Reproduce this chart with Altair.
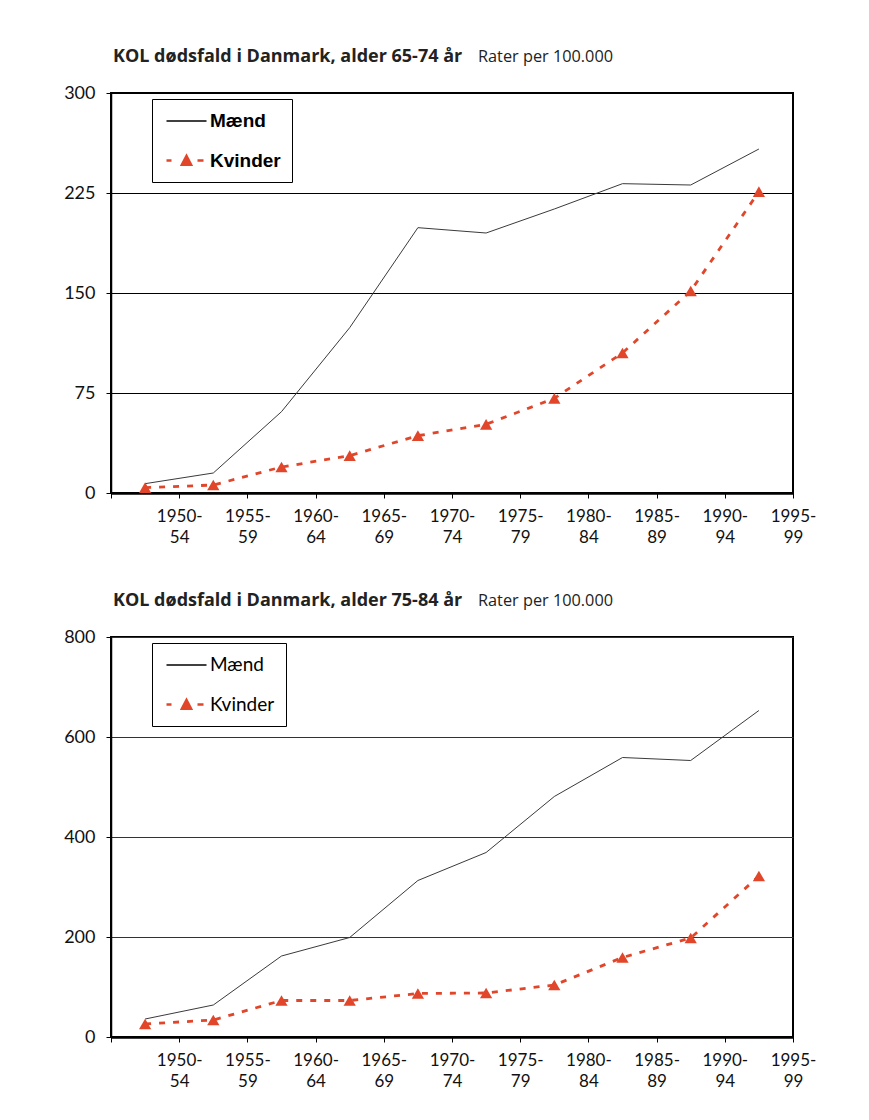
import json
import altair as alt
import pandas as pd

periods = ["1950-54", "1955-59", "1960-64", "1965-69", "1970-74",
           "1975-79", "1980-84", "1985-89", "1990-94", "1995-99"]
series = ["Mænd", "Kvinder"]

men_65 = [7, 15, 61, 124, 199, 195, 213, 232, 231, 258]
women_65 = [4, 6, 19.5, 28, 43, 51.5, 71, 105, 151.5, 226]
men_75 = [36, 64, 162, 199, 313, 369, 481, 559, 553, 653]
women_75 = [26, 34, 73, 73, 87, 88, 104, 159, 198, 322]

ticks_65 = [0, 75, 150, 225, 300]
ticks_75 = [0, 200, 400, 600, 800]

titles = ["KOL dødsfald i Danmark, alder 65-74 år", "KOL dødsfald i Danmark, alder 75-84 år"]
unit_text = "Rater per 100.000"

RED = "#e1462a"
MEN = "#3a3a3a"
W, H = 682, 400

path_men = "M-2,0H2"
path_women = "M-2,0H-1.5M1.1,0H1.7M-0.45,0.42L0,-0.45L0.45,0.42Z"

P = json.dumps(periods, ensure_ascii=False)
pos_expr = "indexof(%s, datum.period) + 0.5" % P
label_expr = ("datum.value < 1 ? '' : [slice(%s[datum.value-1],0,5), slice(%s[datum.value-1],5)]"
              % (P, P))


def panel(men, women, ticks, title, legend_font, legend_weight, legend_size, grid_color):
    df = pd.DataFrame({
        "period": periods * 2,
        "series": [series[0]] * len(periods) + [series[1]] * len(periods),
        "rate": men + women,
    })
    base = alt.Chart(df).transform_calculate(pos=pos_expr)
    x = alt.X(
        "pos:Q",
        scale=alt.Scale(domain=[0, len(periods)], nice=False, zero=False),
        axis=alt.Axis(
            title=None, values=list(range(len(periods) + 1)), labelAngle=0,
            labelExpr=label_expr,
            labelFont="Lato", labelFontSize=17, labelColor="#111",
            labelPadding=10, labelLineHeight=21, labelBaseline="top",
            labelOverlap=False, labelFlush=False,
            tickSize=5, tickColor="black", domainColor="black", domainWidth=2.5,
            grid=False,
        ),
    )
    y = alt.Y(
        "rate:Q",
        scale=alt.Scale(domain=[ticks[0], ticks[-1]], nice=False),
        axis=alt.Axis(
            title=None, values=ticks, grid=True, gridColor=grid_color, gridWidth=1.2,
            tickSize=5, tickColor="black", domainColor="black", domainWidth=1.5,
            labelFont="Lato", labelFontSize=18, labelColor="#111", labelPadding=11,
            minExtent=105, maxExtent=105,
        ),
    )
    men_line = base.transform_filter(alt.datum.series == series[0]).mark_line(
        color=MEN, strokeWidth=1).encode(x=x, y=y)
    women_line = base.transform_filter(alt.datum.series == series[1]).mark_line(
        color=RED, strokeWidth=2.8, strokeDash=[6, 8]).encode(x=x, y=y)
    women_pts = base.transform_filter(alt.datum.series == series[1]).mark_point(
        shape="triangle-up", filled=True, size=150, color=RED, opacity=1).encode(x=x, y=y)

    legend = alt.Legend(
        title=None, orient="none", legendX=41, legendY=6,
        strokeColor="black", padding=11, symbolSize=400, symbolOffset=12,
        labelOffset=12, rowPadding=18, symbolOpacity=1,
        labelFont=legend_font, labelFontWeight=legend_weight,
        labelFontSize=legend_size, labelColor="black",
    )
    legend_layer = base.mark_point(opacity=0, size=400, filled=True).encode(
        x=x, y=y,
        shape=alt.Shape("series:N", scale=alt.Scale(domain=series, range=[path_men, path_women]),
                        legend=legend),
        fill=alt.Fill("series:N", scale=alt.Scale(domain=series, range=["transparent", RED]),
                      legend=legend),
        stroke=alt.Stroke("series:N", scale=alt.Scale(domain=series, range=["black", RED]),
                          legend=legend),
        strokeWidth=alt.StrokeWidth("series:N", scale=alt.Scale(domain=series, range=[1.3, 2.6]),
                                    legend=legend),
    )
    head = alt.Chart(alt.Data(values=[{"t": title}])).mark_text(
        align="left", baseline="alphabetic", font="Open Sans", fontSize=18,
        fontWeight="bold", color="#222"
    ).encode(x=alt.value(2), y=alt.value(-31), text="t:N")
    unit = alt.Chart(alt.Data(values=[{"t": unit_text}])).mark_text(
        align="left", baseline="alphabetic", font="Open Sans", fontSize=16.3, color="#222"
    ).encode(x=alt.value(367), y=alt.value(-31), text="t:N")
    return alt.layer(men_line, women_line, women_pts, legend_layer, head, unit).properties(
        width=W, height=H)


p1 = panel(men_65, women_65, ticks_65, titles[0], "Liberation Sans", "bold", 19, "black")
p2 = panel(men_75, women_75, ticks_75, titles[1], "Lato", "normal", 19, "#333333")

chart = alt.vconcat(p1, p2, spacing=45).resolve_scale(
    shape="independent", fill="independent", stroke="independent", strokeWidth="independent",
    x="independent", y="independent"
).resolve_legend(
    shape="independent", fill="independent", stroke="independent", strokeWidth="independent"
).properties(
    padding={"left": 5, "top": 47, "right": 5, "bottom": 5}
).configure_view(stroke="black", strokeWidth=2)

chart.save("out.html", embed_options={"renderer": "svg", "actions": False})
